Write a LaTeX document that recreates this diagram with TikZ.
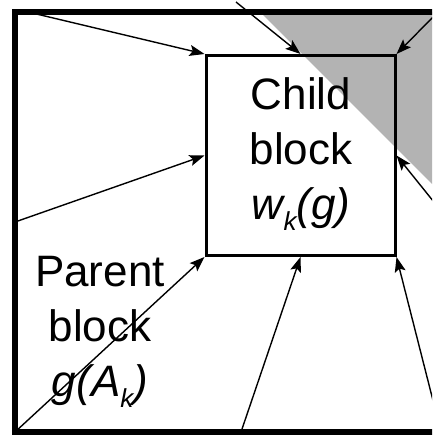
\documentclass[tikz,border=0pt]{standalone}
\usepackage{fontspec}
\setmainfont{Liberation Sans}
\usetikzlibrary{arrows.meta}
\definecolor{shadegray}{RGB}{179,179,179}
\newcommand{\lowsub}[1]{\raisebox{-11pt}{\fontsize{26}{26}\selectfont #1}}
\begin{document}
\begin{tikzpicture}[x=1pt,y=-1pt,
  conn/.style={line width=1.4pt,-{Stealth[length=15pt,width=11pt,inset=3pt]}},
  blocktext/.style={align=center,font=\fontsize{44}{55}\selectfont,inner sep=0pt},
  childbox/.style={draw,line width=3pt,minimum width=189pt,minimum height=200pt,inner sep=0pt},
  outerbox/.style={draw,line width=6.5pt}]
\useasboundingbox (0,0) rectangle (432,435);
\begin{scope}
\clip (0,0) rectangle (432,435);
\fill[shadegray] (260,12) -- (470,12) -- (470,222) -- cycle;
\node[childbox] (child) at (300.5,155.5) {};
\coordinate (stl) at (28,12);
\coordinate (stm) at (236,2);
\coordinate (str) at (438,12);
\coordinate (sml) at (15,222);
\coordinate (smr) at (450,222);
\coordinate (sbl) at (15,432);
\coordinate (sbm) at (241,432);
\coordinate (sbr) at (441,432);
\draw[conn] (stl) -- (child.north west);
\draw[conn] (stm) -- (child.north);
\draw[conn] (str) -- (child.north east);
\draw[conn] (sml) -- (child.west);
\draw[conn] (smr) -- (child.east);
\draw[conn] (sbl) -- (child.south west);
\draw[conn] (sbm) -- (child.south);
\draw[conn] (sbr) -- (child.south east);
\draw[outerbox] (15,12) rectangle (470,432);
\node[blocktext,anchor=north] (childtxt) at (301,77) {Child\\block\\\textit{w\lowsub{k}(g)}};
\node[blocktext,anchor=north] (parenttxt) at (100,256) {Parent\\block\\\textit{g(A\lowsub{k})}};
\end{scope}
\end{tikzpicture}
\end{document}
